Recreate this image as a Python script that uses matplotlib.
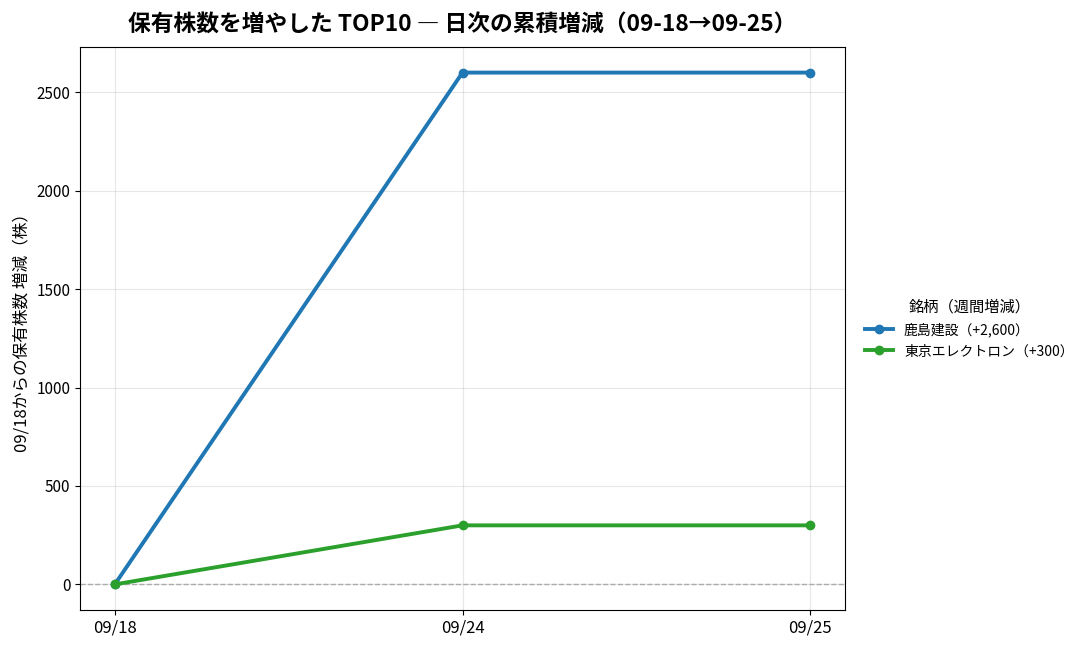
import matplotlib
matplotlib.use("Agg")
import matplotlib.pyplot as plt

plt.rcParams['font.family'] = ['Noto Sans CJK JP', 'DejaVu Sans']

dates = ["09/18", "09/24", "09/25"]
kajima = [0, 2600, 2600]
tel = [0, 300, 300]
labels = ["鹿島建設（+2,600）", "東京エレクトロン（+300）"]
colors = ["#1f77b4", "#2ca02c"]

fig = plt.figure(figsize=(10.88, 6.49), dpi=100)
ax = fig.add_axes([80/1088, 1-610/649, (845-80)/1088, (610-47)/649])

x = list(range(len(dates)))
for vals, lab, c in zip([kajima, tel], labels, colors):
    ax.plot(x, vals, marker='o', lw=2.8, ms=6, color=c, label=lab)

ax.axhline(0, color='#aaaaaa', ls='--', lw=1, zorder=0)
ax.set_xticks(x)
ax.set_xticklabels(dates)
ax.tick_params(axis='y', labelsize=11)
ax.tick_params(axis='x', labelsize=12)
ax.grid(True, alpha=0.3)
ax.set_ylabel("09/18からの保有株数 増減（株）", fontsize=12)
ax.set_title("保有株数を増やした TOP10 ― 日次の累積増減（09-18→09-25）", fontsize=16.4, fontweight='bold', pad=11)
ax.legend(title="銘柄（週間増減）", loc='center left', bbox_to_anchor=(1.01, 0.5), frameon=False, fontsize=10, title_fontsize=11)

fig.savefig("out.png", dpi=100)
